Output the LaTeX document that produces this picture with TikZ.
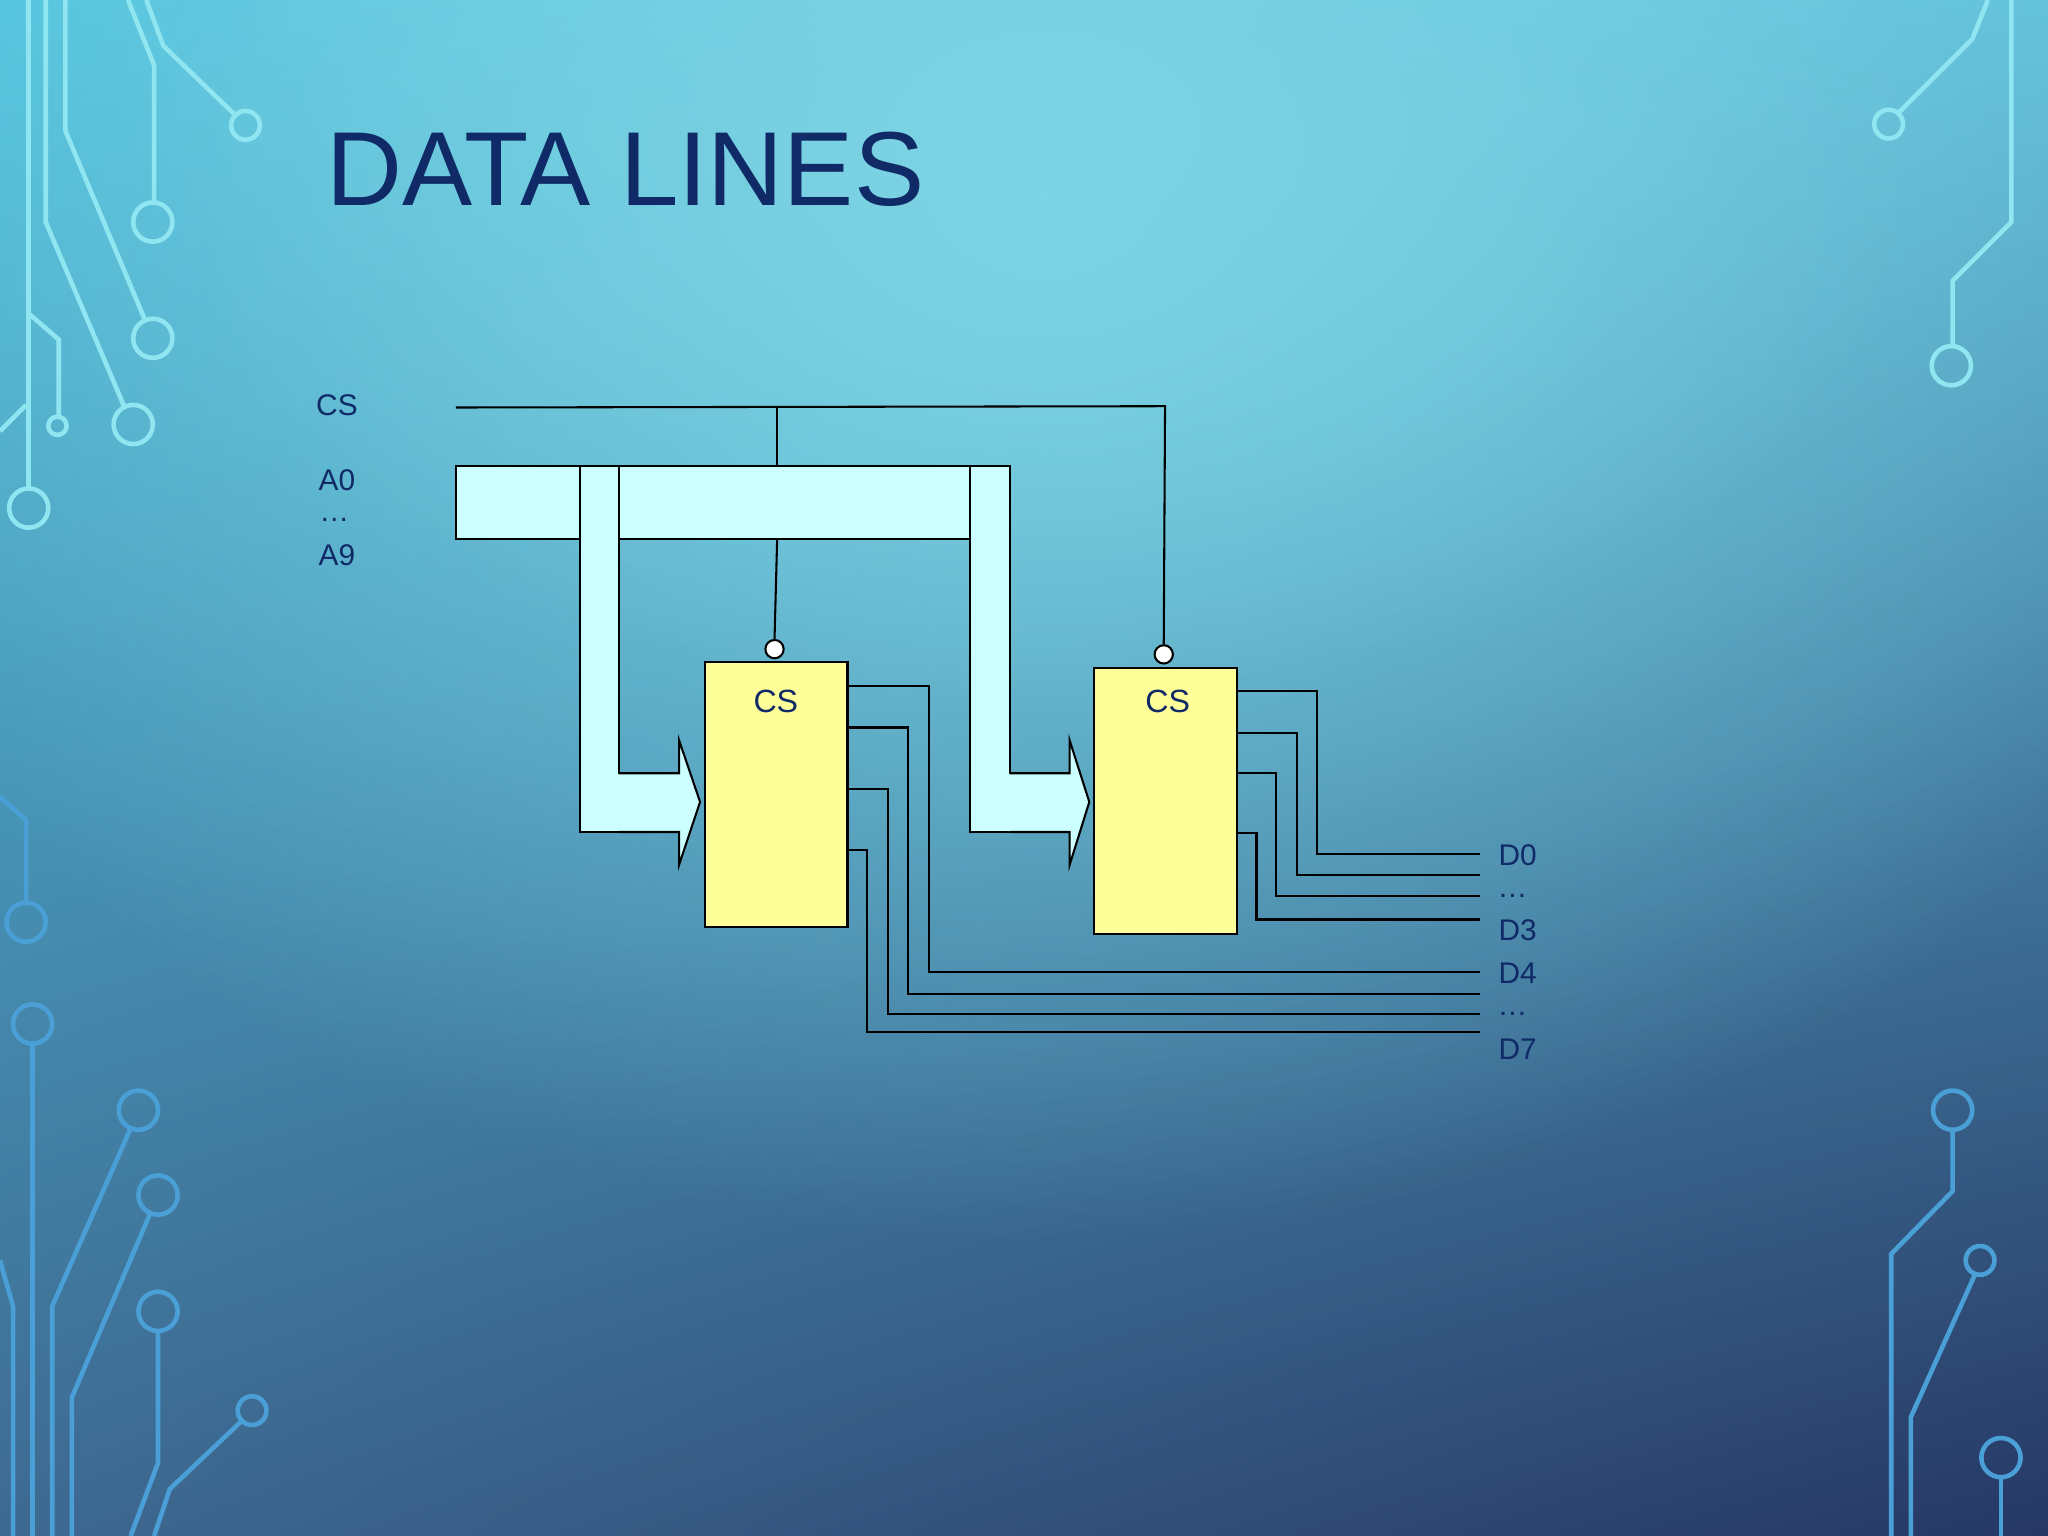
\documentclass[tikz,border=0pt]{standalone}
\usepackage{fontspec}
\usetikzlibrary{shadings,fadings}
\setmainfont{Liberation Sans}
\definecolor{navy}{HTML}{0F2A66}
\definecolor{buscol}{HTML}{CCFFFF}
\definecolor{chipcol}{HTML}{FFFF99}
\definecolor{traceA}{HTML}{8FE6F0}
\definecolor{traceB}{HTML}{4A9FD6}
\definecolor{bgUL}{RGB}{80,195,222}
\definecolor{bgUR}{RGB}{95,190,218}
\definecolor{bgLL}{RGB}{62,105,145}
\definecolor{bgLR}{RGB}{38,55,100}
\definecolor{bgHi}{RGB}{125,212,228}
\tikzfading[name=softfade,inner color=transparent!0,outer color=transparent!100]
\begin{document}
\begin{tikzpicture}[x=0.01cm,y=-0.01cm,
  lbl/.style={text=navy,font=\fontsize{6.5}{7}\selectfont,inner sep=0},
  wire/.style={black,line width=0.45pt},
  busfill/.style={fill=buscol,draw=black,line width=0.45pt},
  chip/.style={fill=chipcol,draw=black,line width=0.45pt,minimum width=1.09cm,minimum height=2.03cm,inner sep=0,anchor=north west},
  bubble/.style={circle,draw=black,fill=white,line width=0.45pt,minimum size=0.14cm,inner sep=0},
  trA/.style={draw=traceA,line width=1pt},
  trB/.style={draw=traceB,line width=1pt}]
\useasboundingbox (0,0) rectangle (1568,1176);
\shade[upper left=bgUL,upper right=bgUR,lower left=bgLL,lower right=bgLR] (0,0) rectangle (1568,1176);
\fill[bgHi,path fading=softfade] (800,150) ellipse (1000 and 800);
\fill[bgHi,path fading=softfade,opacity=0.6] (800,100) ellipse (700 and 450);
% traces top-left
\draw[trA] (22,0)--(22,374); \draw[trA] (22,389) circle (15);
\draw[trA] (35,0)--(35,170)--(95,311); \draw[trA] (102,325) circle (15);
\draw[trA] (50,0)--(50,100)--(111,245); \draw[trA] (117,259) circle (15);
\draw[trA] (98,0)--(118,50)--(118,155); \draw[trA] (117,170) circle (15);
\draw[trA] (112,0)--(125,35)--(180,88); \draw[trA] (188,96) circle (11);
\draw[trA] (22,240)--(45,260)--(45,318); \draw[trA] (44,326) circle (7);
\draw[trA] (0,330)--(20,310);
% top-right
\draw[trA] (1522,0)--(1510,30)--(1454,86); \draw[trA] (1446,95) circle (11);
\draw[trA] (1540,0)--(1540,170)--(1495,215)--(1495,265); \draw[trA] (1494,280) circle (15);
% left mid
\draw[trB] (0,610)--(20,628)--(20,691); \draw[trB] (20,706) circle (15);
% bottom-left
\draw[trB] (25,799)--(25,1176); \draw[trB] (25,784) circle (15);
\draw[trB] (100,864)--(40,1000)--(40,1176); \draw[trB] (106,850) circle (15);
\draw[trB] (115,929)--(55,1070)--(55,1176); \draw[trB] (121,915) circle (15);
\draw[trB] (121,1019)--(121,1120)--(100,1176); \draw[trB] (121,1004) circle (15);
\draw[trB] (185,1088)--(130,1140)--(118,1176); \draw[trB] (193,1080) circle (11);
\draw[trB] (0,965)--(10,1000)--(10,1176);
% bottom-right
\draw[trB] (1495,865)--(1495,912)--(1448,960)--(1448,1176); \draw[trB] (1495,850) circle (15);
\draw[trB] (1512,976)--(1463,1085)--(1463,1176); \draw[trB] (1516,965) circle (11);
\draw[trB] (1532,1131)--(1532,1176); \draw[trB] (1532,1116) circle (15);
% title
\node[anchor=west,text=navy,font=\fontsize{22.9}{27}\selectfont,inner sep=0] (title) at (249,130) {DATA LINES};
% labels
\node[lbl] (lcs) at (258,310) {CS};
\node[lbl] (la0) at (258,368) {A0};
\node[lbl] (ld1) at (256,398) {\ldots};
\node[lbl] (la9) at (258,425) {A9};
% bus
\draw[busfill] (349,357) rectangle (773,413);
\draw[busfill] (444,357) rectangle (474,637);
\draw[busfill] (743,357) rectangle (773,637);
\fill[buscol] (473,592.5) rectangle (521,636.5);
\fill[buscol] (772,592.5) rectangle (820,636.5);
\draw[busfill] (474,592)--(520,592)--(520,567)--(536,614)--(520,662)--(520,637)--(474,637);
\draw[busfill] (773,592)--(819,592)--(819,567)--(834,614)--(819,662)--(819,637)--(773,637);
% chips
\node[chip] (c1) at (539,506) {};
\node[chip] (c2) at (837,511) {};
\node[lbl,font=\fontsize{7}{8}\selectfont] at (594,537) {CS};
\node[lbl,font=\fontsize{7}{8}\selectfont] at (894,537) {CS};
\node[bubble] (b1) at (593,497) {};
\node[bubble] (b2) at (891,501) {};
% CS line
\coordinate (csl) at (349,312);
\draw[wire] (csl)--(892,311)--(b2.north);
\draw[wire] (595,311.5)--(595,357);
\draw[wire] (595,413)--(b1.north);
% outputs
\foreach \ya/\xa/\yb in {525/711/744,557/695/761,604/680/776,651/664/790}
  \draw[wire] (648,\ya)--(\xa,\ya)--(\xa,\yb)--(1133,\yb);
\foreach \ya/\xa/\yb in {529/1008/654,561/993/670,592/977/686,638/962/704}
  \draw[wire] (946,\ya)--(\xa,\ya)--(\xa,\yb)--(1133,\yb);
\node[lbl] (d0) at (1162,655) {D0};
\node[lbl] (dd1) at (1158,686) {\ldots};
\node[lbl] (d3) at (1162,712) {D3};
\node[lbl] (d4) at (1162,745) {D4};
\node[lbl] (dd2) at (1158,776) {\ldots};
\node[lbl] (d7) at (1162,803) {D7};
\end{tikzpicture}
\end{document}
